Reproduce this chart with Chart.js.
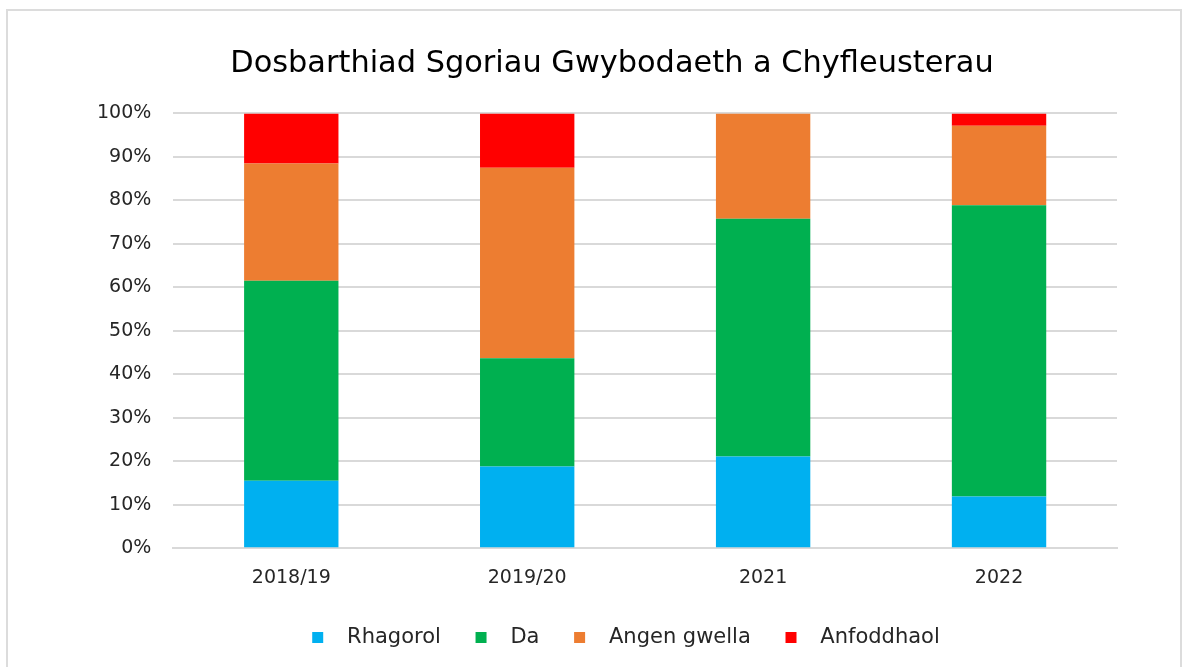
<!DOCTYPE html>
<html>
<head>
<meta charset="utf-8">
<script src="https://cdn.jsdelivr.net/npm/chart.js@4.4.1/dist/chart.umd.min.js"></script>
<style>
    body { margin: 0; background: #fff; overflow: hidden; }
    #frame {
        position: absolute;
        left: 6px;
        top: 9px;
        width: 1176px;
        height: 700px;
        border: 2px solid #dcdcdc;
        box-sizing: border-box;
    }
    #wrap { position: absolute; left: 0; top: 0; width: 1189px; height: 667px; }
</style>
</head>
<body>
<div id="frame"></div>
<div id="wrap"><canvas id="sgoriauChart"></canvas></div>
<script>
const categories = ['2018/19', '2019/20', '2021', '2022'];
const rhagorol = [15.5, 18.8, 21.1, 11.9];
const da = [46.0, 24.9, 54.7, 67.0];
const angenGwella = [27.0, 43.8, 24.2, 18.3];
const anfoddhaol = [11.5, 12.5, 0, 2.8];
const yTicks = [0, 10, 20, 30, 40, 50, 60, 70, 80, 90, 100];

const sgoriauCtx = document.getElementById('sgoriauChart');
const fontFamily = "'DejaVu Sans', Verdana, sans-serif";

function barSet(label, data, colour) {
    return {
        label: label,
        data: data,
        backgroundColor: colour,
        borderWidth: 0,
        barPercentage: 0.4,
        categoryPercentage: 1.0,
    };
}

// Excel puts the title and legend a little right of centre
const nudge = {
    id: 'nudge',
    afterLayout: function (chart) {
        chart.titleBlock.left += 16;
        chart.titleBlock.right += 16;
        chart.legend.left += 30;
        chart.legend.right += 30;
    },
};

new Chart(sgoriauCtx, {
    type: 'bar',
    data: {
        labels: categories,
        datasets: [
            barSet('Rhagorol', rhagorol, '#00b0f0'),
            barSet('Da', da, '#00b050'),
            barSet('Angen gwella', angenGwella, '#ed7d31'),
            barSet('Anfoddhaol', anfoddhaol, '#ff0000'),
        ],
    },
    plugins: [nudge],
    options: {
        responsive: true,
        maintainAspectRatio: false,
        animation: false,
        layout: {
            padding: { left: 75, right: 72, top: 28, bottom: 9 },
        },
        plugins: {
            title: {
                display: true,
                text: 'Dosbarthiad Sgoriau Gwybodaeth a Chyfleusterau',
                color: '#000',
                font: { family: fontFamily, size: 30.4, weight: 'normal' },
                padding: { top: 18, bottom: 31 },
            },
            legend: {
                position: 'bottom',
                labels: {
                    color: '#262626',
                    font: { family: fontFamily, size: 21 },
                    boxWidth: 11,
                    boxHeight: 11,
                    padding: 28,
                    generateLabels: function (chart) {
                        const items = Chart.defaults.plugins.legend.labels.generateLabels(chart);
                        items.forEach(function (item, i) {
                            item.text = '  ' + item.text + (i < items.length - 1 ? ' ' : '');
                        });
                        return items;
                    },
                },
            },
            tooltip: {
                callbacks: {
                    label: function (item) {
                        return item.dataset.label + ': ' + item.raw + '%';
                    },
                },
            },
        },
        scales: {
            x: {
                stacked: true,
                grid: { display: false },
                border: { color: '#d9d9d9', width: 2 },
                ticks: {
                    color: '#262626',
                    font: { family: fontFamily, size: 19 },
                    padding: 10,
                },
            },
            y: {
                stacked: true,
                min: 0,
                max: 100,
                afterBuildTicks: function (axis) {
                    axis.ticks = yTicks.map(function (v) { return { value: v }; });
                },
                grid: { color: '#d9d9d9', lineWidth: 2, drawTicks: false },
                border: { display: false },
                ticks: {
                    color: '#262626',
                    font: { family: fontFamily, size: 19 },
                    padding: 22,
                    callback: function (value) {
                        return value + '%';
                    },
                },
            },
        },
    },
});
</script>
</body>
</html>
